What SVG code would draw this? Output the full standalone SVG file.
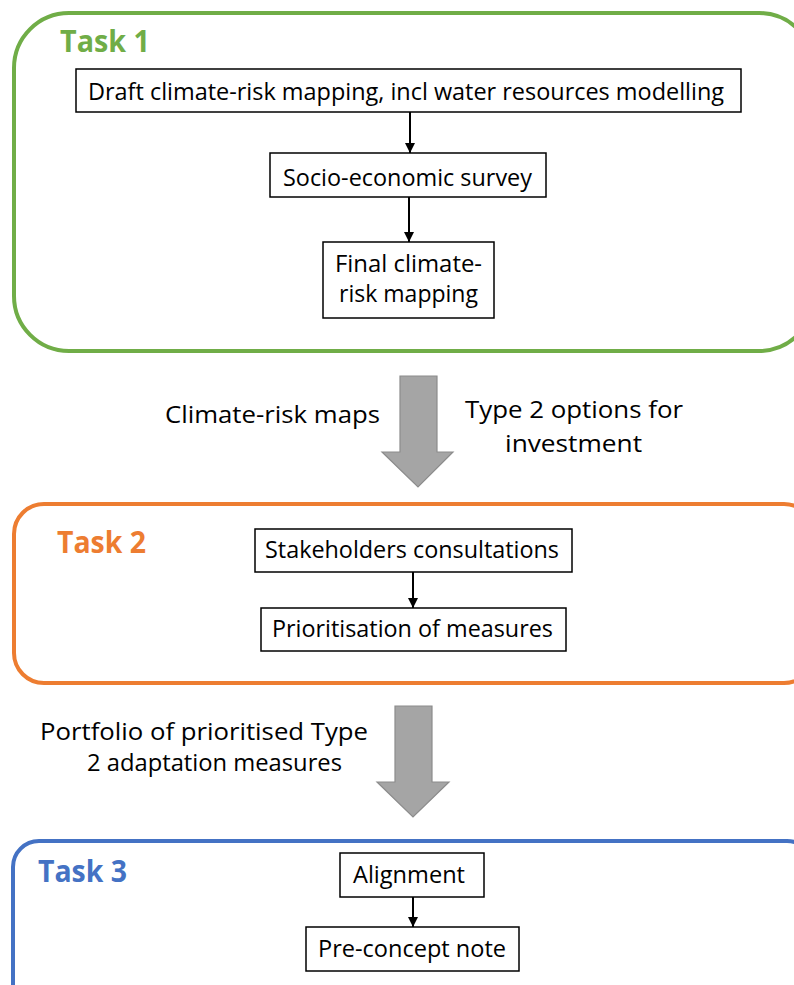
<svg xmlns="http://www.w3.org/2000/svg" width="794" height="985" viewBox="0 0 794 985">
<defs>
<style>
.t{font-family:"Open Sans","Liberation Sans",sans-serif;font-size:24.5px;fill:#000}
.h{font-family:"Open Sans","Liberation Sans",sans-serif;font-size:31px;font-weight:bold}
.box{fill:#fff;stroke:#000;stroke-width:1.5}
.con{stroke:#000;stroke-width:2;fill:none}
.big{fill:#A5A5A5;stroke:#8C8C8C;stroke-width:1.2}
</style>
<marker id="ah" viewBox="0 0 10 10" refX="10" refY="5" markerWidth="5" markerHeight="5" orient="auto" markerUnits="strokeWidth">
<path d="M0,0 L10,5 L0,10 z" fill="#000"/>
</marker>
</defs>
<rect width="794" height="985" fill="#fff"/>

<g id="task1">
<rect x="14" y="13" width="800" height="338" rx="55" ry="55" fill="none" stroke="#70AD47" stroke-width="4"/>
<text class="h" x="60" y="52" fill="#70AD47" textLength="90" lengthAdjust="spacingAndGlyphs">Task 1</text>
</g>
<g id="draft">
<rect class="box" x="76" y="69" width="665" height="43"/>
<text class="t" x="88" y="100" textLength="636" lengthAdjust="spacingAndGlyphs">Draft climate-risk mapping, incl water resources modelling</text>
</g>
<g id="survey">
<rect class="box" x="270" y="153" width="276" height="44"/>
<text class="t" x="283" y="186" textLength="249" lengthAdjust="spacingAndGlyphs">Socio-economic survey</text>
</g>
<g id="final">
<rect class="box" x="323" y="242" width="171" height="76"/>
<text class="t" x="335" y="272" textLength="147" lengthAdjust="spacingAndGlyphs">Final climate-</text>
<text class="t" x="339" y="302" textLength="139" lengthAdjust="spacingAndGlyphs">risk mapping</text>
</g>

<g id="task2">
<rect x="14" y="504" width="800" height="179" rx="30" ry="30" fill="none" stroke="#ED7D31" stroke-width="4"/>
<text class="h" x="57" y="553" fill="#ED7D31" textLength="89" lengthAdjust="spacingAndGlyphs">Task 2</text>
</g>
<g id="stakeholders">
<rect class="box" x="255" y="529" width="317" height="43"/>
<text class="t" x="265" y="558" textLength="294" lengthAdjust="spacingAndGlyphs">Stakeholders consultations</text>
</g>
<g id="prioritisation">
<rect class="box" x="261" y="608" width="305" height="43"/>
<text class="t" x="272" y="637" textLength="281" lengthAdjust="spacingAndGlyphs">Prioritisation of measures</text>
</g>

<g id="task3">
<rect x="13" y="841" width="800" height="200" rx="26" ry="26" fill="none" stroke="#4472C4" stroke-width="4"/>
<text class="h" x="38" y="882" fill="#4472C4" textLength="89" lengthAdjust="spacingAndGlyphs">Task 3</text>
</g>
<g id="alignment">
<rect class="box" x="340" y="853" width="144" height="44"/>
<text class="t" x="353" y="883" textLength="112" lengthAdjust="spacingAndGlyphs">Alignment</text>
</g>
<g id="preconcept">
<rect class="box" x="306" y="927" width="213" height="44"/>
<text class="t" x="318" y="957" textLength="188" lengthAdjust="spacingAndGlyphs">Pre-concept note</text>
</g>

<g id="connectors">
<line class="con" x1="410" y1="112" x2="410" y2="153" marker-end="url(#ah)"/>
<line class="con" x1="409" y1="197" x2="409" y2="242" marker-end="url(#ah)"/>
<line class="con" x1="413" y1="572" x2="413" y2="608" marker-end="url(#ah)"/>
<line class="con" x1="413" y1="897" x2="413" y2="927" marker-end="url(#ah)"/>
<path class="big" d="M400,376 L437,376 L437,452 L453,452 L418,487 L382,452 L400,452 Z"/>
<path class="big" d="M395,706 L432,706 L432,782 L449,782 L413,817 L377,782 L395,782 Z"/>
</g>

<g id="labels">
<text class="t" x="165" y="423" textLength="215" lengthAdjust="spacingAndGlyphs">Climate-risk maps</text>
<text class="t" x="465" y="418" textLength="218" lengthAdjust="spacingAndGlyphs">Type 2 options for</text>
<text class="t" x="505" y="452" textLength="137" lengthAdjust="spacingAndGlyphs">investment</text>
<text class="t" x="40" y="740" textLength="328" lengthAdjust="spacingAndGlyphs">Portfolio of prioritised Type</text>
<text class="t" x="87" y="771" textLength="255" lengthAdjust="spacingAndGlyphs">2 adaptation measures</text>
</g>
</svg>
